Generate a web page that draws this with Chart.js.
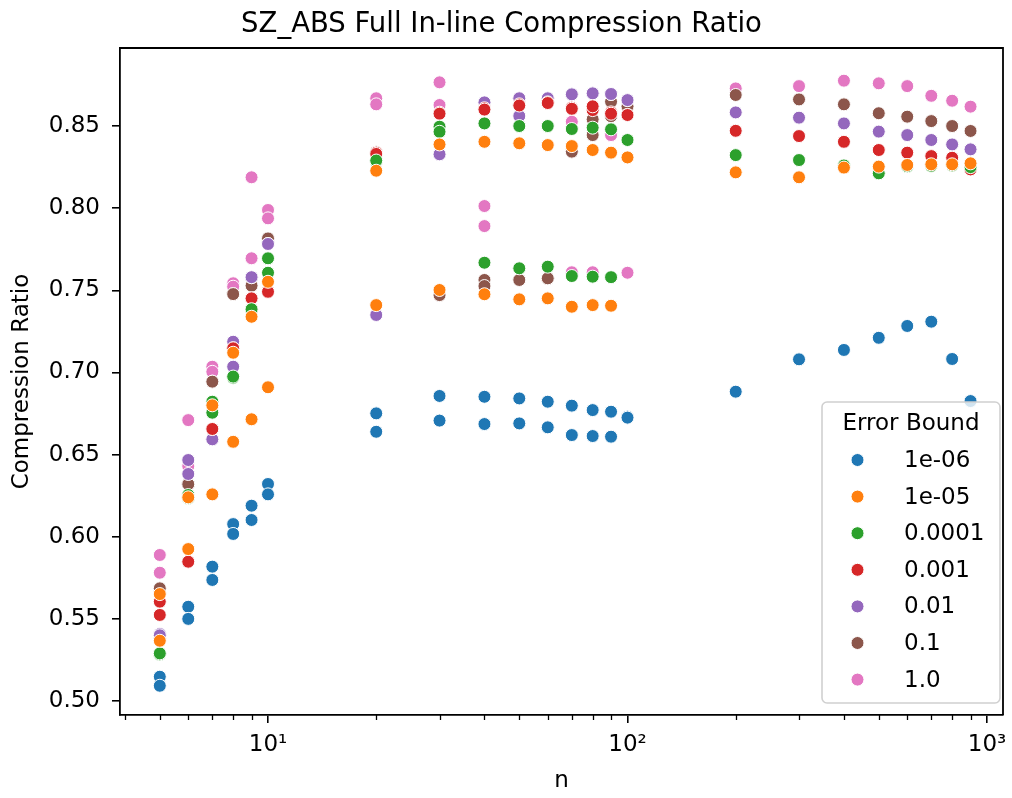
<!DOCTYPE html>
<html>
<head>
<meta charset="utf-8">
<script src="https://cdn.jsdelivr.net/npm/chart.js@4.4.1/dist/chart.umd.min.js"></script>
<style>
  html, body { margin: 0; padding: 0; background: #fff; }
  #wrap { width: 1012px; height: 798px; }
</style>
</head>
<body>
<div id="wrap"><canvas id="chart"></canvas></div>
<script>
// n for every measured point (two runs per n up to 100, one run above)
const nValues = [5, 5, 6, 6, 7, 7, 8, 8, 9, 9, 10, 10, 20, 20, 30, 30, 40, 40, 50, 50,
  60, 60, 70, 70, 80, 80, 90, 90, 100, 100, 200, 300, 400, 500, 600, 700, 800, 900];

// compression ratio for each error bound, same order as nValues
const ratio1e06 = [0.5148, 0.5093, 0.5574, 0.5500, 0.5818, 0.5737, 0.6077, 0.6017, 0.6189, 0.6102,
  0.6321, 0.6258, 0.6751, 0.6639, 0.6857, 0.6707, 0.6852, 0.6686, 0.6842, 0.6690,
  0.6822, 0.6666, 0.6798, 0.6619, 0.6771, 0.6613, 0.6761, 0.6609, 0.6731, 0.6725,
  0.6883, 0.7080, 0.7137, 0.7211, 0.7283, 0.7309, 0.7082, 0.6826];
const ratio1e05 = [0.5651, 0.5367, 0.5925, 0.6240, 0.6258, 0.6800, 0.6578, 0.7120, 0.6715, 0.7339,
  0.6910, 0.7552, 0.7410, 0.8228, 0.7502, 0.8388, 0.7476, 0.8404, 0.7445, 0.8395,
  0.7451, 0.8384, 0.7400, 0.8378, 0.7410, 0.8354, 0.7406, 0.8338, 0.8309, 0.8309,
  0.8218, 0.8188, 0.8247, 0.8253, 0.8263, 0.8267, 0.8267, 0.8273];
const ratio1e04 = [0.5284, 0.5290, 0.6254, 0.6235, 0.6822, 0.6755, 0.6968, 0.6975, 0.7380, 0.7385,
  0.7695, 0.7607, 0.8283, 0.8290, 0.8496, 0.8465, 0.8516, 0.7668, 0.8500, 0.7634,
  0.8500, 0.7644, 0.8482, 0.7587, 0.8490, 0.7583, 0.8480, 0.7580, 0.8415, 0.8415,
  0.8323, 0.8293, 0.8260, 0.8212, 0.8255, 0.8258, 0.8260, 0.8250];
const ratio1e03 = [0.5605, 0.5524, 0.5848, 0.5848, 0.6656, 0.6656, 0.7147, 0.7147, 0.7451, 0.7451,
  0.7491, 0.7491, 0.8338, 0.8330, 0.8581, 0.8575, 0.8608, 0.8600, 0.8632, 0.8625,
  0.8644, 0.8640, 0.8612, 0.8605, 0.8597, 0.8620, 0.8583, 0.8575, 0.8567, 0.8567,
  0.8471, 0.8439, 0.8404, 0.8354, 0.8338, 0.8317, 0.8307, 0.8236];
const ratio1e02 = [0.5408, 0.5400, 0.6467, 0.6382, 0.6593, 0.6593, 0.7187, 0.7035, 0.7580, 0.7580,
  0.7782, 0.7782, 0.7350, 0.7350, 0.8328, 0.8328, 0.8644, 0.8644, 0.8669, 0.8561,
  0.8669, 0.8669, 0.8693, 0.8693, 0.8699, 0.8699, 0.8695, 0.8695, 0.8658, 0.8658,
  0.8583, 0.8551, 0.8516, 0.8466, 0.8445, 0.8415, 0.8388, 0.8358];
const ratio1e01 = [0.5686, 0.5380, 0.6320, 0.6320, 0.6944, 0.6944, 0.7477, 0.7477, 0.7528, 0.7528,
  0.7816, 0.7816, 0.8340, 0.8340, 0.7471, 0.7471, 0.7563, 0.7526, 0.7563, 0.7563,
  0.7573, 0.7573, 0.8344, 0.8344, 0.8541, 0.8445, 0.8648, 0.8560, 0.8620, 0.8620,
  0.8689, 0.8662, 0.8632, 0.8578, 0.8557, 0.8530, 0.8500, 0.8470];
const ratio1e00 = [0.5889, 0.5781, 0.6710, 0.6430, 0.7035, 0.7004, 0.7543, 0.7522, 0.8188, 0.7695,
  0.7989, 0.7938, 0.8669, 0.8632, 0.8766, 0.8628, 0.8013, 0.7891, 0.8669, 0.8669,
  0.8669, 0.8669, 0.8526, 0.7610, 0.8600, 0.7610, 0.8445, 0.8445, 0.7607, 0.7607,
  0.8729, 0.8743, 0.8776, 0.8760, 0.8743, 0.8684, 0.8654, 0.8618];

const errorBounds = ['1e-06', '1e-05', '0.0001', '0.001', '0.01', '0.1', '1.0'];
const seriesValues = [ratio1e06, ratio1e05, ratio1e04, ratio1e03, ratio1e02, ratio1e01, ratio1e00];

// axis ticks
const xTickValues = [10, 100, 1000];
const xTickLabels = ['10\u00B9', '10\u00B2', '10\u00B3'];
const xMinorTicks = [4, 5, 6, 7, 8, 9, 20, 30, 40, 50, 60, 70, 80, 90, 200, 300, 400, 500, 600, 700, 800, 900];
const yTickValues = [0.50, 0.55, 0.60, 0.65, 0.70, 0.75, 0.80, 0.85];

const colors = ['#1f77b4', '#ff7f0e', '#2ca02c', '#d62728', '#9467bd', '#8c564b', '#e377c2'];
const FONT = 'DejaVu Sans';

// small ticks between the decades
const minorTicksPlugin = {
    id: 'minorTicks',
    afterDraw(chart) {
        const ctx = chart.ctx;
        const xs = chart.scales.x;
        const bottom = chart.chartArea.bottom;
        ctx.save();
        ctx.strokeStyle = '#000';
        ctx.lineWidth = 1.3;
        xMinorTicks.forEach(v => {
            const px = Math.round(xs.getPixelForValue(v)) + 0.5;
            ctx.beginPath();
            ctx.moveTo(px, bottom);
            ctx.lineTo(px, bottom + 5);
            ctx.stroke();
        });
        ctx.restore();
    }
};

// top and right spines
const framePlugin = {
    id: 'frame',
    afterDraw(chart) {
        const {left, right, top, bottom} = chart.chartArea;
        const ctx = chart.ctx;
        ctx.save();
        ctx.strokeStyle = '#000';
        ctx.lineWidth = 1.8;
        ctx.beginPath();
        ctx.moveTo(left, top);
        ctx.lineTo(right, top);
        ctx.lineTo(right, bottom);
        ctx.stroke();
        ctx.restore();
    }
};

// matplotlib style legend inside the plot
const legendPlugin = {
    id: 'boxLegend',
    afterDraw(chart) {
        const ctx = chart.ctx;
        const x0 = 822, y0 = 402, w = 178, h = 301;
        ctx.save();
        ctx.beginPath();
        ctx.roundRect(x0, y0, w, h, 5);
        ctx.fillStyle = 'rgba(255,255,255,0.8)';
        ctx.fill();
        ctx.strokeStyle = '#d0d0d0';
        ctx.lineWidth = 1.6;
        ctx.stroke();

        ctx.fillStyle = '#000';
        ctx.font = '23px "' + FONT + '"';
        ctx.textBaseline = 'middle';
        ctx.textAlign = 'center';
        ctx.fillText('Error Bound', 911, 424);

        ctx.textAlign = 'left';
        chart.data.datasets.forEach((ds, i) => {
            const y = 460 + i * 36.6;
            ctx.beginPath();
            ctx.arc(857.5, y, 6.5, 0, Math.PI * 2);
            ctx.fillStyle = ds.backgroundColor;
            ctx.fill();
            ctx.strokeStyle = '#fff';
            ctx.lineWidth = 1;
            ctx.stroke();
            ctx.fillStyle = '#000';
            ctx.fillText(ds.label, 904, y + 1);
        });
        ctx.restore();
    }
};

const datasets = errorBounds.map((label, i) => ({
    label: label,
    data: nValues.map((n, j) => ({x: n, y: seriesValues[i][j]})),
    backgroundColor: colors[i],
    borderColor: '#ffffff',
    borderWidth: 1,
    pointRadius: 6.5,
    pointHoverRadius: 6.5
}));

new Chart(document.getElementById('chart'), {
    type: 'scatter',
    data: { datasets: datasets },
    plugins: [minorTicksPlugin, framePlugin, legendPlugin],
    options: {
        responsive: true,
        maintainAspectRatio: false,
        animation: false,
        devicePixelRatio: 1,
        layout: { padding: { top: 0, right: 9, bottom: 0, left: 0 } },
        plugins: {
            legend: { display: false },
            tooltip: { enabled: false },
            title: {
                display: true,
                text: 'SZ_ABS Full In-line Compression Ratio',
                color: '#000',
                font: { family: FONT, size: 27.5, weight: 'normal' },
                padding: { top: 8, bottom: 7 }
            }
        },
        scales: {
            x: {
                type: 'logarithmic',
                position: 'bottom',
                min: 3.875,
                max: 1108,
                afterBuildTicks: scale => {
                    scale.ticks = xTickValues.map(v => ({ value: v }));
                },
                afterFit: scale => {
                    scale.height = 83;
                    // let the last tick label hang past the plot edge
                    scale.paddingLeft = 0;
                    scale.paddingRight = 0;
                },
                grid: { drawOnChartArea: false, drawTicks: true, tickLength: 8, color: '#000', lineWidth: 1.6 },
                border: { display: true, color: '#000', width: 1.8 },
                ticks: {
                    autoSkip: false,
                    maxRotation: 0,
                    padding: 8,
                    color: '#000',
                    font: { family: FONT, size: 23 },
                    callback: (value, index) => xTickLabels[index]
                },
                title: {
                    display: true,
                    text: 'n',
                    color: '#000',
                    font: { family: FONT, size: 23 },
                    padding: { top: 0, bottom: 3 }
                }
            },
            y: {
                type: 'linear',
                min: 0.4915,
                max: 0.8975,
                afterBuildTicks: scale => {
                    scale.ticks = yTickValues.map(v => ({ value: v }));
                },
                afterFit: scale => { scale.width = 120; },
                grid: { drawOnChartArea: false, drawTicks: true, tickLength: 8, color: '#000', lineWidth: 1.6 },
                border: { display: true, color: '#000', width: 1.8 },
                ticks: {
                    padding: 12,
                    color: '#000',
                    font: { family: FONT, size: 23 },
                    callback: value => value.toFixed(2)
                },
                title: {
                    display: true,
                    text: 'Compression Ratio',
                    color: '#000',
                    font: { family: FONT, size: 23 },
                    padding: { top: 8, bottom: 0 }
                }
            }
        }
    }
});
</script>
</body>
</html>
